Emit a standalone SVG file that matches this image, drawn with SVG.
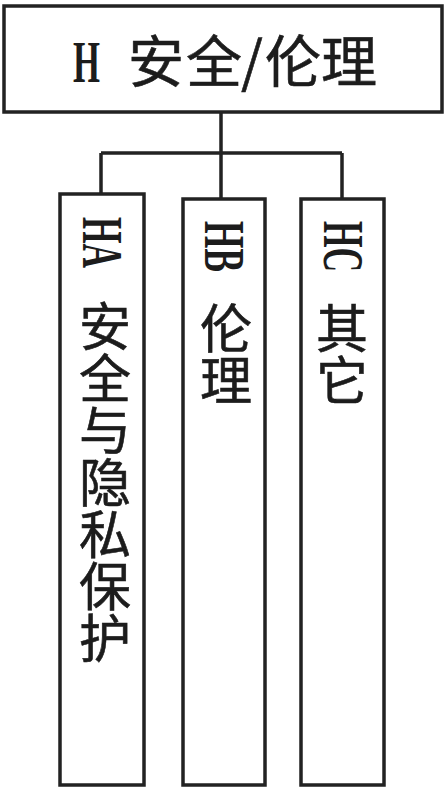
<svg xmlns="http://www.w3.org/2000/svg" width="446" height="791" viewBox="0 0 446 791">
<style>
.box{fill:#fff;stroke:#222;stroke-width:3.5}
.wire{fill:none;stroke:#222;stroke-width:3.5}
.t{fill:#1c1c1c;font-family:"Liberation Serif","Noto Sans CJK SC",serif}
.cjk{fill:#1c1c1c;stroke:#1c1c1c;stroke-width:0.6;font-family:"Noto Sans CJK SC",sans-serif;font-size:52px;writing-mode:vertical-rl}
.code{fill:#1c1c1c;font-family:"Liberation Serif",serif;font-size:57px;font-weight:bold}
</style>
<rect width="446" height="791" fill="#fff"/>
<g id="connectors">
<path class="wire" d="M221 112 V199 M101 153 H342 M101 153 V194 M342 153 V199"/>
</g>
<g id="H">
<rect class="box" x="4" y="6" width="438" height="106"/>
<text class="t" y="82" font-size="57"><tspan x="73" textLength="27" lengthAdjust="spacingAndGlyphs" font-size="59" font-weight="bold">H</tspan><tspan x="128 186 241 265 321" font-family="Noto Sans CJK SC, sans-serif" font-size="56" stroke="#1c1c1c" stroke-width="0.6">安全/伦理</tspan></text>
</g>
<g id="HA">
<rect class="box" x="60" y="194" width="84" height="591"/>
<text class="code" transform="translate(83 217) rotate(90)" textLength="51" lengthAdjust="spacingAndGlyphs">HA</text>
<text class="cjk" x="105" y="300">安全与隐私保护</text>
</g>
<g id="HB">
<rect class="box" x="183" y="199" width="82" height="586"/>
<text class="code" transform="translate(204.5 221) rotate(90)" textLength="51" lengthAdjust="spacingAndGlyphs">HB</text>
<text class="cjk" x="226" y="302">伦理</text>
</g>
<g id="HC">
<rect class="box" x="301" y="199" width="83" height="586"/>
<text class="code" transform="translate(323.5 221) rotate(90)" textLength="51" lengthAdjust="spacingAndGlyphs">HC</text>
<text class="cjk" x="342" y="302">其它</text>
</g>
</svg>
